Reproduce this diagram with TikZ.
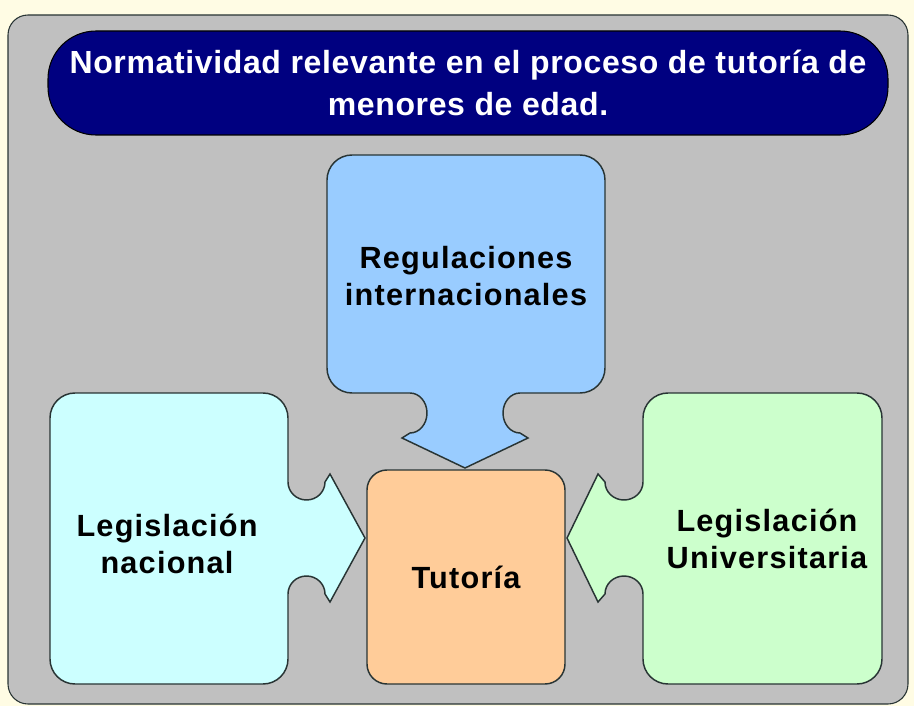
\documentclass[tikz,border=0pt]{standalone}
\usepackage{fontspec}
\setmainfont{Liberation Sans}
\newfontfamily\titlefont[LetterSpace=2]{Liberation Sans}
\newfontfamily\boxfont[LetterSpace=4]{Liberation Sans}

\definecolor{bgcream}{RGB}{255,252,228}
\definecolor{panelgray}{RGB}{192,192,192}
\definecolor{titlenavy}{RGB}{0,0,128}
\definecolor{regblue}{RGB}{153,204,255}
\definecolor{naccyan}{RGB}{204,255,255}
\definecolor{unigreen}{RGB}{204,255,204}
\definecolor{tutorange}{RGB}{255,204,153}
\definecolor{edgedark}{RGB}{40,52,52}

\tikzset{
  shapeline/.style={draw=edgedark, line width=1.1pt},
  boxtext/.style={font={\boxfont\bfseries\fontsize{23}{27.5}\selectfont}, align=center, inner sep=0pt},
  titlebox/.style={draw=black, line width=0.8pt, fill=titlenavy, text=white, rounded corners=36pt,
    minimum width=630pt, minimum height=78pt, align=center,
    font={\titlefont\bfseries\fontsize{24}{31}\selectfont}},
  tutbox/.style={shapeline, fill=tutorange, rounded corners=15pt, minimum width=148.5pt,
    minimum height=160.5pt, boxtext},
}

\begin{document}
\begin{tikzpicture}[x=0.75pt,y=0.75pt,yscale=-1]
  \useasboundingbox (0,0) rectangle (914,706);
  \fill[bgcream] (0,0) rectangle (914,706);

  %Shape: Panel
  \draw[draw=edgedark, line width=0.8pt, fill=panelgray, rounded corners=15pt] (8,15) rectangle (908,704);

  % Text Node
  \node[titlebox] (titulo) at (468,83) {Normatividad relevante en el proceso de tutoría de\\menores de edad.};

  %Shape: Callout down
  \draw[shapeline, fill=regblue] (465,155) -- (580,155) arc[start angle=-90,end angle=0,radius=25]
    -- (605,368) arc[start angle=0,end angle=90,radius=25] -- (520,393)
    .. controls (510.6,393) and (503,402) .. (503,413) .. controls (503,424) and (510.6,433) .. (520,433)
    -- (528,438) -- (465,468) -- (402,438) -- (410,433)
    .. controls (419.4,433) and (427,424) .. (427,413) .. controls (427,402) and (419.4,393) .. (410,393)
    -- (352,393) arc[start angle=90,end angle=180,radius=25]
    -- (327,180) arc[start angle=180,end angle=270,radius=25] -- cycle;

  %Shape: Callout right
  \draw[shapeline, fill=naccyan] (169,393) -- (263,393) arc[start angle=-90,end angle=0,radius=25]
    -- (288,482) .. controls (288,492) and (296.3,500) .. (306.5,500) .. controls (316.7,500) and (325,492) .. (325,482)
    -- (330,474) -- (365,538) -- (330,602) -- (325,594)
    .. controls (325,584) and (316.7,576) .. (306.5,576) .. controls (296.3,576) and (288,584) .. (288,594)
    -- (288,659) arc[start angle=0,end angle=90,radius=25]
    -- (75,684) arc[start angle=90,end angle=180,radius=25]
    -- (50,418) arc[start angle=180,end angle=270,radius=25] -- cycle;

  %Shape: Callout left
  \draw[shapeline, fill=unigreen] (762,393) -- (857,393) arc[start angle=-90,end angle=0,radius=25]
    -- (882,659) arc[start angle=0,end angle=90,radius=25]
    -- (668,684) arc[start angle=90,end angle=180,radius=25]
    -- (643,594) .. controls (643,584) and (634.5,576) .. (624,576) .. controls (613.5,576) and (605,584) .. (605,594)
    -- (598,602) -- (567,538) -- (598,474) -- (605,482)
    .. controls (605,492) and (613.5,500) .. (624,500) .. controls (634.5,500) and (643,492) .. (643,482)
    -- (643,418) arc[start angle=180,end angle=270,radius=25] -- cycle;

  % Text Node
  \node[tutbox] (tutoria) at (466,577) {Tutoría};
  % Text Node
  \node[boxtext] (regulaciones) at (466,276) {Regulaciones\\internacionales};
  % Text Node
  \node[boxtext] (nacional) at (167,544) {Legislación\\nacional};
  % Text Node
  \node[boxtext] (universitaria) at (767,539) {Legislación\\Universitaria};
\end{tikzpicture}
\end{document}
